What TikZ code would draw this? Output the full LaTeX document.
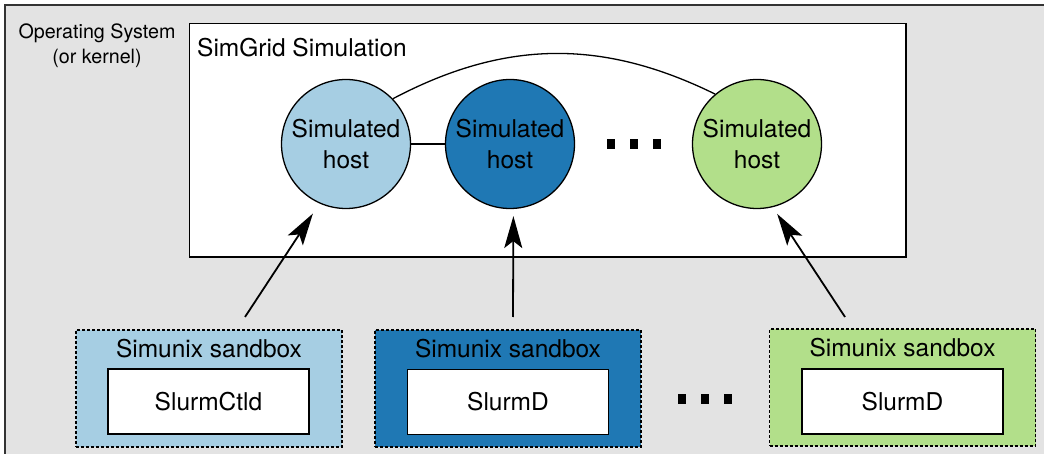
\documentclass[tikz,border=0pt]{standalone}
\usepackage{fontspec}
\setmainfont{TeX Gyre Heros}
\usetikzlibrary{arrows.meta}
\definecolor{oscol}{HTML}{E3E3E3}
\definecolor{hostA}{HTML}{A6CEE3}
\definecolor{hostB}{HTML}{1F78B4}
\definecolor{hostC}{HTML}{B2DF8A}
\begin{document}
\begin{tikzpicture}[x=1pt,y=-1pt,>={Stealth[length=32pt,width=18pt,inset=7pt]},
  txt/.style={inner sep=0pt,font=\fontsize{24.5}{30.6}\selectfont},
  host/.style={txt,circle,draw,line width=1.3pt,minimum size=129pt,align=center},
  sandbox/.style={draw,dash pattern=on 3pt off 2pt,line width=1.2pt,minimum width=266pt,minimum height=117pt,inner sep=0pt},
  daemon/.style={txt,draw,fill=white,line width=1.5pt,minimum width=201pt,minimum height=65pt}]
          \useasboundingbox (0,0) rectangle (1044,454);
          \clip (0,0) rectangle (1044,454);
          \draw[fill=oscol,draw=black!80,line width=2pt] (5,5) rectangle (1070,480);
          \node[align=center,inner sep=0pt,font=\fontsize{19.7}{25}\selectfont] (os) at (97,46) {Operating System\\(or kernel)};
          \draw[fill=white,line width=1.6pt] (189.5,23.5) rectangle (906,257);
          \node[txt,anchor=west] (sim) at (197,48) {SimGrid Simulation};
          \node[host,fill=hostA] (h1) at (346,144) {Simulated\\host};
          \node[host,fill=hostB] (h2) at (510,144) {Simulated\\host};
          \node[host,fill=hostC] (h3) at (757,144) {Simulated\\host};
          \draw[line width=1.3pt] (h1) -- (h2);
          \draw[line width=1.3pt] (h1.44) to[bend left=27] (h3.130);
          \foreach \x in {611,634,657} \fill (\x-4,139) rectangle (\x+4,149);
          \node[sandbox,fill=hostA] (sb1) at (209,388.5) {};
          \node[sandbox,fill=hostB] (sb2) at (508,388.5) {};
          \node[sandbox,fill=hostC] (sb3) at (902.5,387.5) {};
          \node[txt] (t1) at (209,349) {Simunix sandbox};
          \node[txt] (t2) at (508,349) {Simunix sandbox};
          \node[txt] (t3) at (902.5,348) {Simunix sandbox};
          \node[daemon] (d1) at (208.5,401.5) {SlurmCtld};
          \node[daemon] (d2) at (508,402) {SlurmD};
          \node[daemon] (d3) at (902.5,401.5) {SlurmD};
          \foreach \x in {682,705,728} \fill (\x-4,394) rectangle (\x+4,404);
          \coordinate (a1) at (245,317);
          \coordinate (a2) at (513,317);
          \coordinate (a3) at (845,317);
          \draw[->,line width=1.8pt,shorten >=12pt] (a1) -- (h1.-114);
          \draw[->,line width=1.8pt,shorten >=7pt] (a2) -- (h2.-87);
          \draw[->,line width=1.8pt,shorten >=8pt] (a3) -- (h3.-76);
        \end{tikzpicture}
\end{document}
